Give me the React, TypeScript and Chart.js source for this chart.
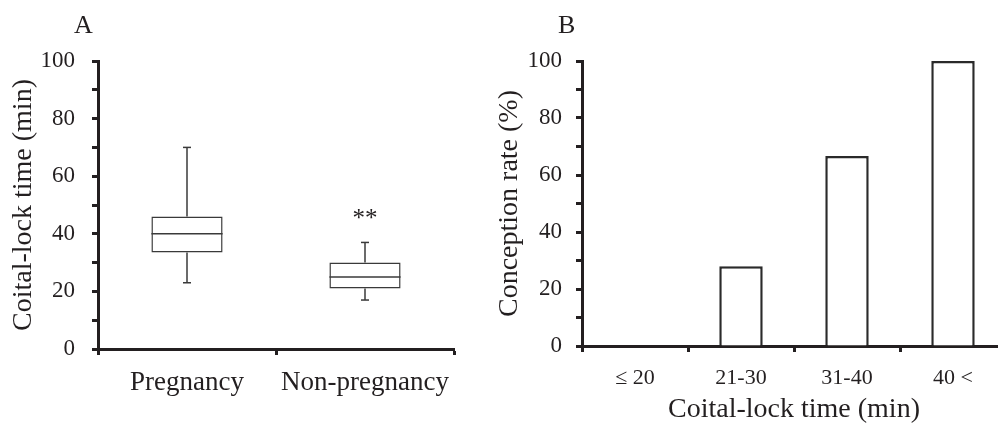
import React, { useEffect, useRef } from "react";
import { Chart, registerables } from "chart.js";

Chart.register(...registerables);

// ---------- Panel A data (box plot) ----------
const groups = ["Pregnancy", "Non-pregnancy"];
const whiskerMin = [23, 17];
const q1 = [33.5, 21];
const median = [40, 25];
const q3 = [46, 30];
const whiskerMax = [70, 37];
const significance = ["", "**"];

// ---------- Panel B data (bar chart) ----------
const rateCategories = ["\u2264 20", "21-30", "31-40", "40 <"];
const conceptionRate = [0, 28, 66.7, 100];

// ---------- shared axis ----------
const yMin = 0;
const yMax = 100;
const yStep = 10;
const yLabelEvery = 20;

const FONT = "'Liberation Serif', 'Times New Roman', Times, serif";
const INK = "#231f20";

const boxPlugin = {
  id: "boxWhiskers",
  afterDatasetsDraw(chart: any) {
    const { ctx, scales } = chart;
    const y = scales.y;
    const meta = chart.getDatasetMeta(0);
    ctx.save();
    ctx.strokeStyle = "#3a3a3a";
    ctx.lineWidth = 1.5;
    const line = (x1: number, y1: number, x2: number, y2: number) => {
      ctx.beginPath();
      ctx.moveTo(x1, y1);
      ctx.lineTo(x2, y2);
      ctx.stroke();
    };
    groups.forEach((_, i) => {
      const bar = meta.data[i];
      const cx = bar.x;
      const half = bar.width / 2;
      const capHalf = 4;
      const pMed = y.getPixelForValue(median[i]);
      const pQ1 = y.getPixelForValue(q1[i]);
      const pQ3 = y.getPixelForValue(q3[i]);
      const pMin = y.getPixelForValue(whiskerMin[i]);
      const pMax = y.getPixelForValue(whiskerMax[i]);
      line(cx - half, pMed, cx + half, pMed);
      line(cx, pQ3, cx, pMax);
      line(cx - capHalf, pMax, cx + capHalf, pMax);
      line(cx, pQ1, cx, pMin);
      line(cx - capHalf, pMin, cx + capHalf, pMin);
      if (significance[i]) {
        ctx.fillStyle = INK;
        ctx.font = `25px ${FONT}`;
        ctx.textAlign = "center";
        ctx.textBaseline = "alphabetic";
        ctx.fillText(significance[i], cx, pMax - 16);
      }
    });
    ctx.restore();
  },
};

function yAxis(title: string, width: number, titlePad: number, tickPad: number) {
  return {
    min: yMin,
    max: yMax,
    afterFit(scale: any) {
      scale.width = width;
    },
    ticks: {
      stepSize: yStep,
      autoSkip: false,
      color: INK,
      font: { family: FONT, size: 23 },
      padding: tickPad,
      callback: (v: any) => (Number(v) % yLabelEvery === 0 ? String(v) : ""),
    },
    grid: {
      drawOnChartArea: false,
      drawTicks: true,
      tickLength: 6,
      tickWidth: 3,
      tickColor: INK,
    },
    border: { display: true, width: 3, color: INK },
    title: {
      display: true,
      text: title,
      color: INK,
      font: { family: FONT, size: 28 },
      padding: { top: titlePad, bottom: 0 },
    },
  };
}

function PanelA() {
  const ref = useRef<HTMLCanvasElement>(null);
  useEffect(() => {
    if (!ref.current) return;
    const chart = new Chart(ref.current, {
      type: "bar",
      data: {
        labels: groups,
        datasets: [
          {
            data: groups.map((_, i) => [q1[i], q3[i]]) as any,
            backgroundColor: "#ffffff",
            borderColor: "#3a3a3a",
            borderWidth: 1.5,
            borderSkipped: false,
            barPercentage: 0.4,
            categoryPercentage: 1,
          },
        ],
      },
      options: {
        responsive: false,
        animation: false,
        devicePixelRatio: 1,
        layout: { padding: { top: 61, right: 46, left: 0, bottom: 0 } },
        plugins: { legend: { display: false }, tooltip: { enabled: false } },
        scales: {
          x: {
            afterFit(scale: any) {
              scale.height = 77;
            },
            ticks: {
              color: INK,
              font: { family: FONT, size: 27 },
              padding: 12,
            },
            grid: {
              offset: true,
              drawOnChartArea: false,
              tickLength: 6,
              tickWidth: 3,
              tickColor: INK,
            },
            border: { display: true, width: 3, color: INK },
          },
          y: yAxis("Coital-lock time (min)", 98, 7, 17) as any,
        },
      },
      plugins: [boxPlugin],
    });
    return () => chart.destroy();
  }, []);
  return (
    <canvas
      ref={ref}
      width={500}
      height={426}
      style={{ position: "absolute", left: 0, top: 0, width: 500, height: 426 }}
    />
  );
}

function PanelB() {
  const ref = useRef<HTMLCanvasElement>(null);
  useEffect(() => {
    if (!ref.current) return;
    const chart = new Chart(ref.current, {
      type: "bar",
      data: {
        labels: rateCategories,
        datasets: [
          {
            data: conceptionRate,
            backgroundColor: "#ffffff",
            borderColor: "#2a2a2a",
            borderWidth: 2.5,
            barPercentage: 0.41,
            categoryPercentage: 1,
          },
        ],
      },
      options: {
        responsive: false,
        animation: false,
        devicePixelRatio: 1,
        layout: { padding: { top: 61, right: 4, left: 0, bottom: 0 } },
        plugins: { legend: { display: false }, tooltip: { enabled: false } },
        scales: {
          x: {
            afterFit(scale: any) {
              scale.height = 80;
            },
            ticks: {
              color: INK,
              font: { family: FONT, size: 22 },
              padding: 13,
            },
            grid: {
              offset: true,
              drawOnChartArea: false,
              tickLength: 6,
              tickWidth: 3,
              tickColor: INK,
            },
            border: { display: true, width: 3, color: INK },
            title: {
              display: true,
              text: "Coital-lock time (min)",
              color: INK,
              font: { family: FONT, size: 28 },
              padding: { top: 0, bottom: 0 },
            },
          },
          y: yAxis("Conception rate (%)", 92, 3, 14) as any,
        },
      },
    });
    return () => chart.destroy();
  }, []);
  return (
    <canvas
      ref={ref}
      width={520}
      height={426}
      style={{ position: "absolute", left: 490, top: 0, width: 520, height: 426 }}
    />
  );
}

const panelLabel: React.CSSProperties = {
  position: "absolute",
  top: 12,
  fontFamily: FONT,
  fontSize: 26,
  lineHeight: "26px",
  color: INK,
};

export default function App() {
  return (
    <div
      style={{
        position: "fixed",
        left: 0,
        top: 0,
        width: 998,
        height: 426,
        overflow: "hidden",
        background: "#ffffff",
      }}
    >
      <PanelA />
      <PanelB />
      <div style={{ ...panelLabel, left: 74 }}>A</div>
      <div style={{ ...panelLabel, left: 558 }}>B</div>
    </div>
  );
}
